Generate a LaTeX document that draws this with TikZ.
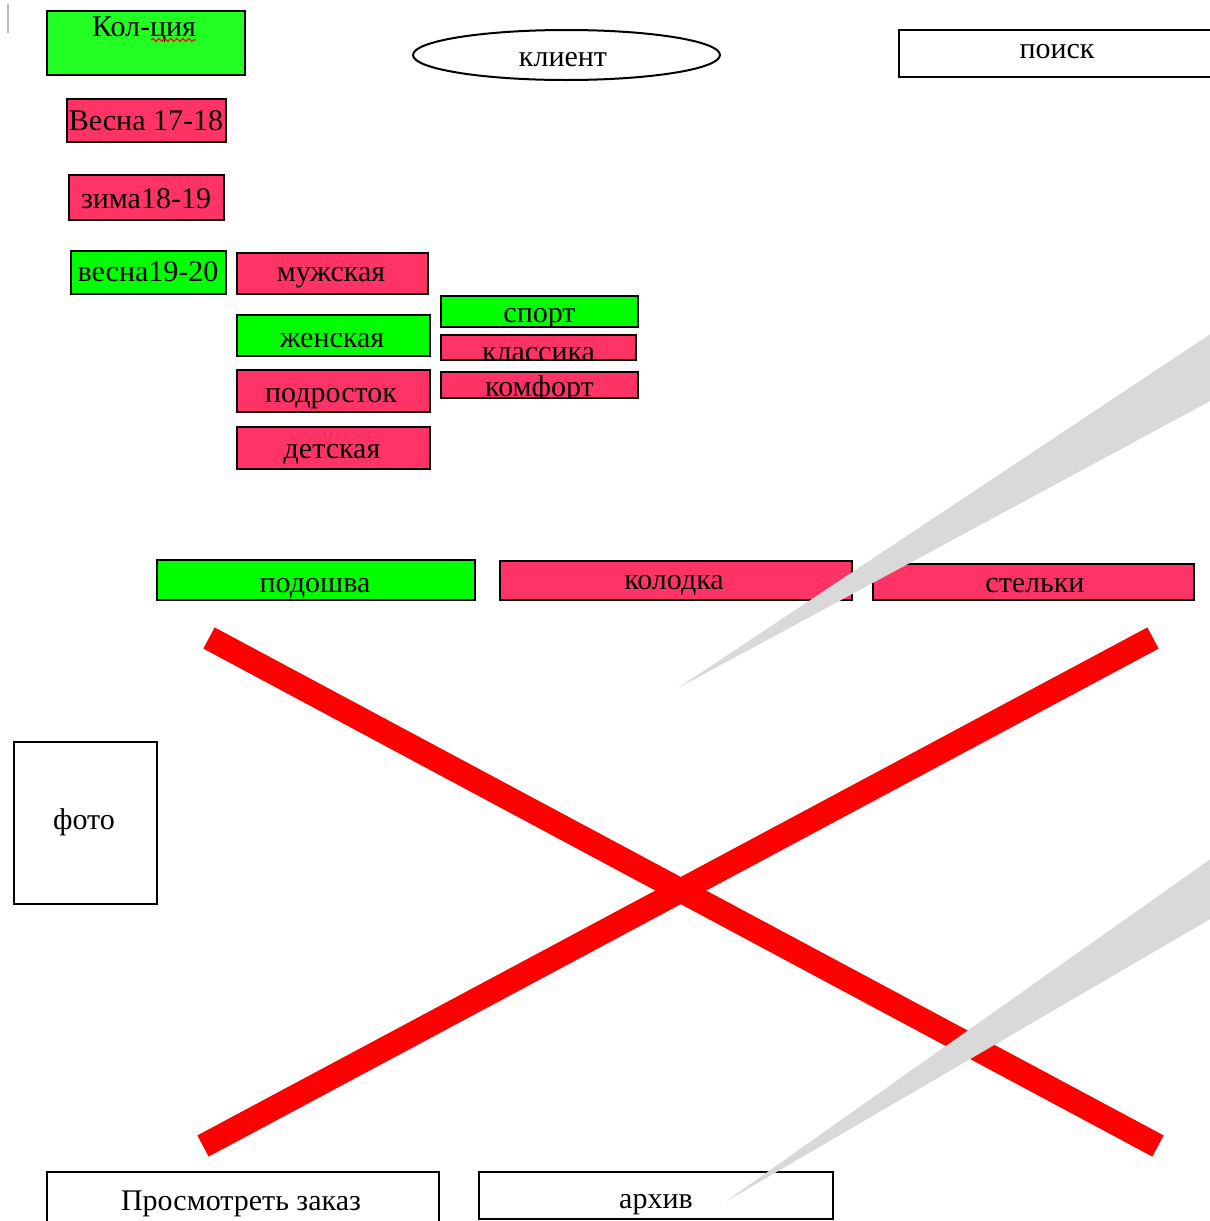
\documentclass[tikz,border=0pt]{standalone}
\usepackage{fontspec}
\setmainfont{Liberation Serif}
\usetikzlibrary{shapes.geometric,decorations.pathmorphing}
\definecolor{pinkc}{RGB}{255,51,102}
\definecolor{greenc}{RGB}{0,255,0}
\definecolor{kolgreen}{RGB}{34,255,34}
\definecolor{wedgegrey}{RGB}{217,217,217}
\definecolor{redx}{RGB}{255,0,0}
\newcommand\bx[6]{\node[#2, minimum width={(#5-#3)*0.75pt}, minimum height={(#6-#4)*0.75pt}] (#1) at ({(#3+#5)/2},{(#4+#6)/2}) {};}
\begin{document}
\begin{tikzpicture}[x=0.75pt,y=-0.75pt,
  box/.style={draw=black,line width=1.5pt,inner sep=0pt,outer sep=0pt,rectangle},
  pinkbox/.style={box,fill=pinkc},
  greenbox/.style={box,fill=greenc},
  kolbox/.style={box,fill=kolgreen},
  whitebox/.style={box,fill=white},
  lbl/.style={font=\fontsize{22.5}{27}\selectfont,inner sep=0pt,outer sep=0pt,anchor=base},
  xline/.style={draw=redx,line width=18pt},
  wedge/.style={fill=wedgegrey,draw=none}]
\useasboundingbox (0,0) rectangle (1210,1221);
\clip (0,0) rectangle (1210,1221);
\fill[white] (0,0) rectangle (1210,1221);
% cursor mark
\draw[gray!55,line width=1.5pt] (8,4) -- (8,33);
% left column
\bx{kol}{kolbox}{47}{11}{245}{75}
\node[lbl] (kolT) at (144,36) {Кол-ция};
\draw[red,line width=0.8pt,decorate,decoration={snake,amplitude=1.1pt,segment length=4.5pt}] (151,40) -- (196,40);
\bx{v1718}{pinkbox}{67}{99}{226}{142}
\node[lbl] (v1718T) at (146,130) {Весна 17-18};
\bx{z1819}{pinkbox}{69}{175}{224}{220}
\node[lbl] (z1819T) at (146,208) {зима18-19};
\bx{v1920}{greenbox}{71}{251}{226}{294}
\node[lbl] (v1920T) at (148,281) {весна19-20};
% second column
\bx{muzh}{pinkbox}{237}{253}{428}{294}
\node[lbl] (muzhT) at (331,281) {мужская};
\bx{zhen}{greenbox}{237}{315}{430}{356}
\node[lbl] (zhenT) at (332,347) {женская};
\bx{podr}{pinkbox}{237}{370}{430}{412}
\node[lbl] (podrT) at (331,402) {подросток};
\bx{det}{pinkbox}{237}{427}{430}{469}
\node[lbl] (detT) at (332,458) {детская};
% third column (text clipped by box)
\node[greenbox,minimum width={197*0.75pt},minimum height={31*0.75pt},
  path picture={\node[lbl] (sportT) at ([yshift=3.5pt]path picture bounding box.south) {спорт};}]
  (sport) at (539.5,311.5) {};
\node[pinkbox,minimum width={195*0.75pt},minimum height={25*0.75pt},
  path picture={\node[lbl] (klassT) at ([yshift=-1.2pt]path picture bounding box.south) {классика};}]
  (klass) at (538.5,347.5) {};
\node[pinkbox,minimum width={197*0.75pt},minimum height={26*0.75pt},
  path picture={\node[lbl] (komfT) at ([yshift=1pt]path picture bounding box.south) {комфорт};}]
  (komf) at (539.5,385) {};
% top row
\node[draw=black,line width=1.5pt,ellipse,inner sep=0pt,minimum width={307*0.75pt},minimum height={50*0.75pt}] (klient) at (566.5,55) {};
\node[lbl] (klientT) at (563,66) {клиент};
\bx{poisk}{whitebox}{899}{30}{1216}{77}
\node[lbl] (poiskT) at (1057,58) {поиск};
% middle row
\bx{podosh}{greenbox}{157}{560}{475}{600}
\node[lbl] (podoshT) at (315,592) {подошва};
\bx{kolod}{pinkbox}{500}{561}{852}{600}
\node[lbl] (kolodT) at (674,589) {колодка};
\bx{stelk}{pinkbox}{873}{564}{1194}{600}
\node[lbl] (stelkT) at (1035,592) {стельки};
% photo
\bx{foto}{whitebox}{14}{742}{157}{904}
\node[lbl] (fotoT) at (84,829) {фото};
% bottom row
\bx{prosm}{whitebox}{47}{1172}{439}{1228}
\node[lbl] (prosmT) at (241,1210) {Просмотреть заказ};
\bx{arch}{whitebox}{479}{1172}{833}{1219}
\node[lbl] (archT) at (656,1208) {архив};
% red cross
\coordinate (xa) at (209,638);
\coordinate (xb) at (1158,1146);
\coordinate (xc) at (1153,638);
\coordinate (xd) at (203,1146);
\draw[xline] (xa) -- (xb);
\draw[xline] (xc) -- (xd);
% grey wedges
\coordinate (w1a) at (1212,333);
\coordinate (w1b) at (1212,400);
\coordinate (w1t) at (678,688);
\fill[wedge] (w1a) -- (w1b) -- (w1t) -- cycle;
\coordinate (w2a) at (1212,858);
\coordinate (w2b) at (1212,918);
\coordinate (w2t) at (725,1202);
\fill[wedge] (w2a) -- (w2b) -- (w2t) -- cycle;
\end{tikzpicture}
\end{document}
